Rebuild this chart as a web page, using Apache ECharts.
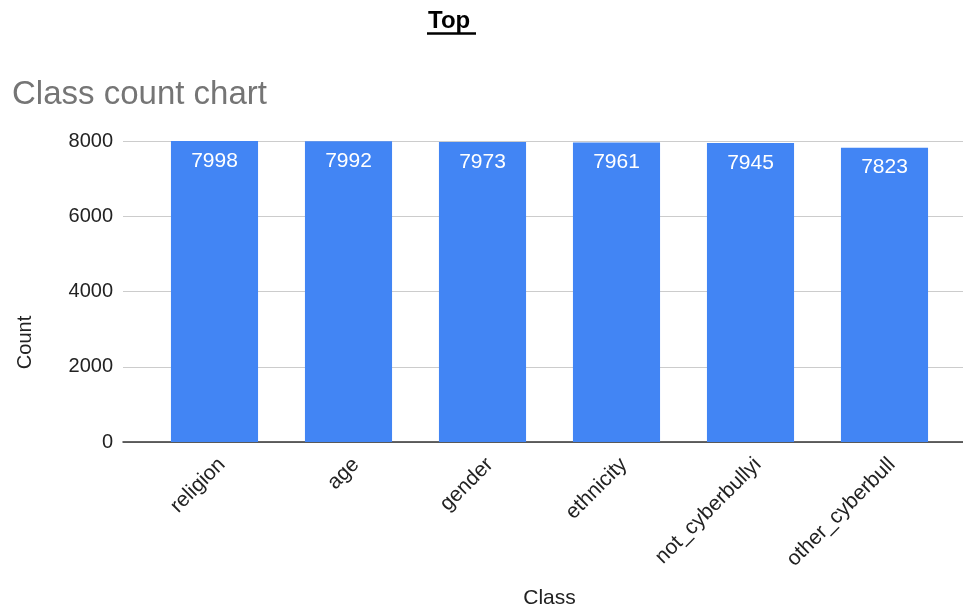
<!DOCTYPE html>
<html><head><meta charset="utf-8">
<script src="https://cdn.jsdelivr.net/npm/echarts@6/dist/echarts.min.js"></script>
<style>html,body{margin:0;padding:0;background:#fff}#c{width:963px;height:607px}</style>
</head><body><div id="c"></div>
<script>
const categories = ['religion','age','gender','ethnicity','not_cyberbullyi','other_cyberbull'];
const counts = [7998, 7992, 7973, 7961, 7945, 7823];
const yTicks = [0, 2000, 4000, 6000, 8000];

const FONT = 'Liberation Sans';
const chart = echarts.init(document.getElementById('c'), null, {renderer:'canvas'});
chart.setOption({
  animation: false,
  backgroundColor: '#fff',
  title: [
    {text: 'Top', left: 428, top: 9, padding: 0,
     textStyle: {fontFamily: FONT, fontWeight: 'bold', fontSize: 24, color: '#000'}},
    {text: 'Class count chart', left: 12, top: 78, padding: 0,
     textStyle: {fontFamily: FONT, fontWeight: 'normal', fontSize: 33, color: '#757575'}}
  ],
  graphic: [{type: 'line', shape: {x1: 427, y1: 33.5, x2: 476, y2: 33.5}, style: {stroke: '#000', lineWidth: 2.5}}],
  grid: [
    {left: 147.5, right: 11.5, top: 141, bottom: 165, outerBoundsMode: 'none', containLabel: false},
    {left: 123, right: 0, top: 141, bottom: 165, outerBoundsMode: 'none', containLabel: false}
  ],
  xAxis: [{
    type: 'category', data: categories, gridIndex: 0,
    name: 'Class', nameLocation: 'middle', nameGap: 146,
    nameTextStyle: {fontFamily: FONT, fontSize: 21, color: '#222'},
    axisLine: {show: false},
    axisTick: {show: false},
    axisLabel: {rotate: 45, margin: 12, verticalAlign: 'top', fontFamily: FONT, fontSize: 21, color: '#222', interval: 0}
  }, {
    type: 'value', gridIndex: 1, min: 0, max: 1,
    axisLine: {show: true, onZero: false, lineStyle: {color: '#333', width: 1.5}},
    axisTick: {show: false}, axisLabel: {show: false}, splitLine: {show: false}
  }],
  yAxis: [{
    type: 'value', gridIndex: 0, min: 0, max: 8000, interval: 2000,
    name: 'Count', nameLocation: 'middle', nameGap: 112, nameRotate: 90,
    nameTextStyle: {fontFamily: FONT, fontSize: 20, color: '#222', padding: [0, 102, 0, 0]},
    axisLine: {show: false}, axisTick: {show: false},
    axisLabel: {margin: 34.5, fontFamily: FONT, fontSize: 20, color: '#222',
      formatter: v => yTicks.includes(v) ? String(v) : ''},
    splitLine: {show: false}
  }, {
    type: 'value', gridIndex: 1, min: 0, max: 8000, interval: 2000,
    axisLine: {show: false}, axisTick: {show: false}, axisLabel: {show: false},
    splitLine: {lineStyle: {color: '#ccc'}}
  }],
  series: [{
    type: 'bar', data: counts, barWidth: '65%', xAxisIndex: 0, yAxisIndex: 0,
    itemStyle: {color: '#4285F4'},
    label: {show: true, position: 'insideTop', distance: 9.5, color: '#fff',
      fontFamily: FONT, fontSize: 21}
  }]
});
</script></body></html>
